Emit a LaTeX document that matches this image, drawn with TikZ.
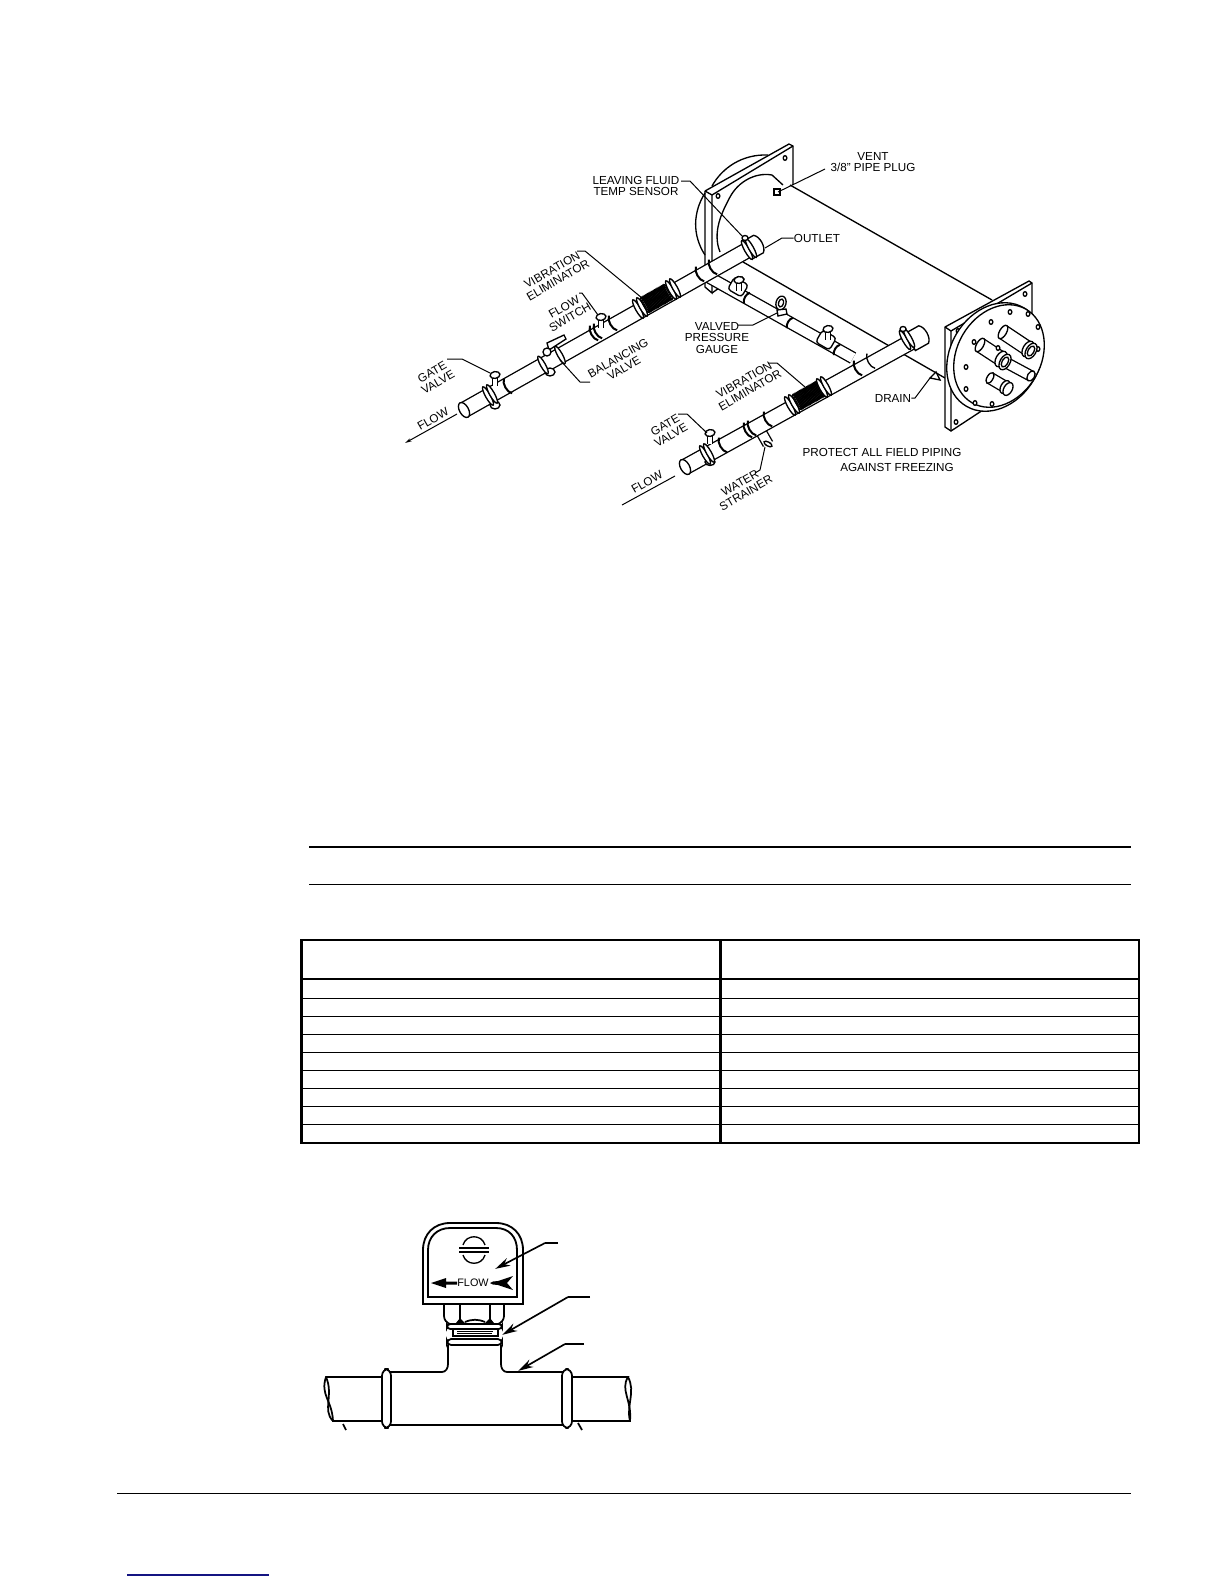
\documentclass[tikz,border=0pt]{standalone}
\usepackage{fontspec}
\setmainfont{Liberation Sans}
\usetikzlibrary{arrows.meta,calc}
\definecolor{navyrule}{RGB}{20,20,130}
\tikzset{
  pl/.style={line width=.8pt,black},
  lead/.style={line width=.6pt,black},
  leadarrow/.style={line width=1pt,black,-{Stealth[length=9pt,width=5pt]}},
  pipest/.style={line width=.8pt,double=white,double distance=#1*0.6pt,line cap=butt},
  lbl/.style={font=\fontsize{7}{7}\selectfont,align=center,inner sep=0pt,text=black},
  heavy/.style={line width=1.6pt,black},
  thin row/.style={line width=.5pt,black},
  fig/.style={line width=1.05pt,black},
}
\newcommand{\ringA}[4]{\draw[pl,fill=white,shift={(#1,#2)},rotate=29.2] (0,0) ellipse [x radius=#3,y radius=#4];}
\newcommand{\ringB}[4]{\draw[pl,fill=white,shift={(#1,#2)},rotate=-30] (0,0) ellipse [x radius=#3,y radius=#4];}
\newcommand{\jointA}[2]{\draw[line width=1.2pt,shift={(#1,#2)},rotate=29.2] (0,-8.4) .. controls (-4,-5) and (-4,5) .. (0,8.4);}
\newcommand{\jointB}[2]{\draw[line width=1.2pt,shift={(#1,#2)},rotate=-30] (0,-6) .. controls (-3,-3.5) and (-3,3.5) .. (0,6);}
\newcommand{\hole}[2]{\draw[pl,fill=white] (#1,#2) ellipse [x radius=1.8,y radius=2.3];}
\newcommand{\plugA}[2]{\draw[pipest=4] (#1,#2) -- ++(0,11); \draw[pl,fill=white,shift={(#1,#2)},rotate=10] (0,0) ellipse [x radius=5,y radius=3.4];}
\newcommand{\bellows}[4]{\foreach \t in {0,0.05,...,1.001} {\draw[line width=.7pt,shift={($(#1,#2)!\t!(#3,#4)$)},rotate=29.2] (0,0) ellipse [x radius=1.6,y radius=8.6];}}
\newcommand{\teeB}[2]{\draw[pl,fill=white,shift={(#1,#2)},rotate=-30,rounded corners=2pt] (-8,-7) rectangle (8,7);}
\begin{document}
\begin{tikzpicture}[x=0.6pt,y=-0.6pt]
\useasboundingbox (0,0) rectangle (1224,1584);
\fill[white] (0,0) rectangle (1224,1584);

%% ---------- vessel ----------
\draw[pl] (705,193) .. controls (693,212) and (692,235) .. (705,255);
\draw[pl] (712,186) .. controls (722,168) and (742,154) .. (768,155);
\draw[pl] (705,191) -- (789,144) -- (793,146) -- (793,185);
\draw[pl] (712,195) -- (793,146);
\draw[pl] (705,191) -- (712,195);
\draw[pl] (705,191) -- (705,287) -- (712,293) -- (712,195);
\draw[pl] (712,293) -- (722,286);
\draw[pl] (720,252) .. controls (712,232) and (722,212) .. (730,197) .. controls (738,182) and (755,172) .. (772,175) -- (783,185);
\draw[pl] (790,185) -- (992,300);
\draw[pl] (743,262) -- (945,378);
\hole{718}{196}\hole{785}{158}
\draw[pl,fill=white] (774,189) rectangle (780,195);

%% ---------- bypass line ----------
\draw[pipest=10] (705,275) -- (853,358);
\draw[pl,fill=white] (705,275) ellipse [x radius=4,y radius=5];
\plugA{739}{280}
\teeB{738}{287}
\plugA{739}{280}
\jointB{747}{298}
\draw[pl,fill=white,rotate around={-15:(781,303)}] (781,303) ellipse [x radius=5,y radius=7];
\draw[pl,fill=white,rotate around={-15:(781,303)}] (781,303) ellipse [x radius=2.5,y radius=4];
\draw[pl,fill=white] (777,310) -- (786,309) -- (787,314) -- (778,316) -- cycle;
\jointB{790}{323}
\teeB{826}{340}
\plugA{828}{329}
\jointB{837}{350}

%% ---------- outlet pipe ----------
\draw[pipest=14] (464,410) -- (760,243);
\draw[pl,fill=white] (495,405) ellipse [x radius=5,y radius=4];
\ringA{464}{410}{4.5}{8.2}
\ringA{488}{396}{2.4}{10.5}\ringA{492}{394}{2.4}{10.5}
\jointA{508}{386}
\plugA{495}{375}
\draw[pl,fill=white] (550,372) ellipse [x radius=5,y radius=4];
\ringA{543}{365}{2.4}{10}
\ringA{560}{355}{2.4}{10}
\draw[pl,fill=white] (547,343) -- (564,335) -- (566,339) -- (549,350) -- cycle;
\draw[pl,fill=white] (547,352) ellipse [x radius=4,y radius=4];
\jointA{594}{333}\jointA{598}{331}\jointA{613}{323}
\plugA{601}{317}
\ringA{638}{309}{2.4}{10.5}\ringA{642}{307}{2.4}{10.5}
\bellows{645}{305}{668}{292}
\ringA{671}{290}{2.4}{10.5}\ringA{675}{288}{2.4}{10.5}
\jointA{700}{274}\jointA{713}{267}
\draw[pl,fill=white,shift={(755,246)},rotate=29.2] (-8,-10) -- (4,-10) .. controls (9,-6) and (9,6) .. (4,10) -- (-8,10) -- cycle;
\ringA{747}{250}{2.4}{10.8}\ringA{751}{248}{2.4}{10.8}
\draw[pl,fill=white] (745,238) ellipse [x radius=3,y radius=2.5];

%% ---------- inlet pipe ----------
\draw[pipest=9] (760,430) -- (768,444);
\draw[pl,fill=white,shift={(768,444)},rotate=60] (0,0) ellipse [x radius=2,y radius=4.5];
\draw[pipest=14] (685,467) -- (920,337);
\draw[pl,fill=white] (710,462) ellipse [x radius=5,y radius=3.5];
\ringA{685}{467}{4.5}{8.2}
\ringA{705}{455}{2.4}{10.5}\ringA{709}{453}{2.4}{10.5}
\jointA{723}{445}
\plugA{710}{433}
\jointA{748}{430}\jointA{752}{428}
\jointA{768}{419}
\ringA{790}{406}{2.4}{10.5}\ringA{794}{404}{2.4}{10.5}
\bellows{797}{402}{820}{389}
\ringA{822}{388}{2.4}{10.5}\ringA{826}{386}{2.4}{10.5}
\jointA{858}{368}
\draw[pl,shift={(871,361)},rotate=29.2] (0,-8.4) .. controls (-4,-5) and (-4,5) .. (0,8.4);
\draw[pl,fill=white,shift={(921,336)},rotate=29.2] (-12,-10) -- (3,-10) .. controls (8,-6) and (8,6) .. (3,10) -- (-12,10) -- cycle;
\ringA{905}{340}{2.4}{10.8}\ringA{909}{338}{2.4}{10.8}
\draw[pl,fill=white] (903,329) ellipse [x radius=3,y radius=2.5];
\draw[pl,fill=white] (930,378) -- (936,372) -- (940,380) -- cycle;

%% ---------- front tube sheet ----------
\draw[pl,fill=white] (945,327) -- (1029,281) -- (1032,283) -- (1032,340) -- (983,410) -- (951,431) -- (945,427) -- cycle;
\draw[pl] (951,331) -- (1032,283);
\draw[pl] (945,327) -- (951,331) -- (951,431);
\hole{958}{331}\hole{1025}{294}\hole{956}{422}
\draw[pl,fill=white,shift={(995,357)},rotate=60] (0,0) ellipse [x radius=57,y radius=45];
\draw[pl,fill=white,shift={(999,356)},rotate=60] (0,0) ellipse [x radius=54,y radius=42];
\hole{1010}{312}\hole{1028}{314}\hole{1038}{327}\hole{1038}{349}\hole{991}{322}
\hole{974}{342}\hole{966}{367}\hole{966}{389}\hole{975}{403}\hole{992}{404}\hole{1021}{339}
% nozzles
\draw[pipest=13] (1003,332) -- (1030,350);
\ringB{1003}{332}{3.5}{7.5}
\ringB{1028}{349}{5}{8.5}\ringB{1031}{351}{5}{8.5}\ringB{1031}{351}{3}{5.5}
\draw[pipest=9] (1005,362) -- (1031,376);
\draw[pipest=13] (980,345) -- (1003,360);
\ringB{980}{345}{3.5}{7.5}
\ringB{1001}{359}{5}{8.5}\ringB{1005}{362}{5}{8.5}\ringB{1005}{362}{3}{5.5}
\ringB{1031}{376}{3.5}{5.5}
\draw[pipest=10] (990,378) -- (1007,388);
\ringB{990}{378}{3}{6}
\ringB{1005}{387}{4.2}{7}\ringB{1008}{389}{4.2}{7}
\hole{998}{348}

%% ---------- labels, upper figure ----------
\node[lbl] (leaving) at (636,186) {LEAVING FLUID\\TEMP SENSOR};
\node[lbl] (vent) at (873,162) {VENT\\3/8" PIPE PLUG};
\node[lbl] (outlet) at (817,238) {OUTLET};
\node[lbl,rotate=30] (vibu) at (555,275) {VIBRATION\\ELIMINATOR};
\node[lbl,rotate=30] (flowsw) at (567,312) {FLOW\\SWITCH};
\node[lbl,rotate=30] (balv) at (621,363) {BALANCING\\VALVE};
\node[lbl,rotate=30] (gateu) at (435,377) {GATE\\VALVE};
\node[lbl,rotate=30] (flowu) at (433,419) {FLOW};
\node[lbl] (gauge) at (717,338) {VALVED\\PRESSURE\\GAUGE};
\node[lbl,rotate=30] (vibl) at (747,385) {VIBRATION\\ELIMINATOR};
\node[lbl,rotate=30] (gatel) at (668,430) {GATE\\VALVE};
\node[lbl,rotate=30] (flowl) at (647,482) {FLOW};
\node[lbl,rotate=30] (strainer) at (743,488) {WATER\\STRAINER};
\node[lbl] (drain) at (893,398) {DRAIN};
\node[lbl] (protect) at (882,452) {PROTECT ALL FIELD PIPING};
\node[lbl] (against) at (897,467) {AGAINST FREEZING};

\coordinate (tLeaving) at (743,237); \coordinate (bLeaving) at (690,181);
\coordinate (sLeaving) at (681,181);
\coordinate (tVent) at (778,192); \coordinate (sVent) at (825,169);
\coordinate (tOutlet) at (765,248); \coordinate (bOutlet) at (782,238);
\coordinate (sVibU) at (577,251); \coordinate (bVibU) at (585,251); \coordinate (tVibU) at (642,298);
\coordinate (sSw) at (579,293); \coordinate (bSw) at (582,293); \coordinate (tSw) at (598,315);
\coordinate (sGateU) at (447,359); \coordinate (bGateU) at (462,359); \coordinate (tGateU) at (490,373);
\coordinate (sBal) at (590,382); \coordinate (bBal) at (580,382); \coordinate (tBal) at (560,360);
\coordinate (sGauge) at (738,325); \coordinate (bGauge) at (753,325); \coordinate (tGauge) at (777,313);
\coordinate (sVibL) at (768,363); \coordinate (bVibL) at (777,363); \coordinate (tVibL) at (805,387);
\coordinate (sGateL) at (678,414); \coordinate (bGateL) at (687,414); \coordinate (tGateL) at (707,433);
\coordinate (tDrain) at (930,378); \coordinate (bDrain) at (915,398);
\coordinate (sStr) at (755,473); \coordinate (bStr) at (760,470); \coordinate (tStr) at (765,447);
\coordinate (fuA) at (457,414); \coordinate (fuB) at (405,443);
\coordinate (flA) at (675,476); \coordinate (flB) at (622,505);

\draw[lead] (sLeaving) -- (bLeaving) -- (tLeaving);
\draw[lead] (sVent) -- (tVent);
\draw[lead] (outlet.west) -- (bOutlet) -- (tOutlet);
\draw[lead] (sVibU) -- (bVibU) -- (tVibU);
\draw[lead] (sSw) -- (bSw) -- (tSw);
\draw[lead] (sGateU) -- (bGateU) -- (tGateU);
\draw[lead] (sBal) -- (bBal) -- (tBal);
\draw[lead] (sGauge) -- (bGauge) -- (tGauge);
\draw[lead] (sVibL) -- (bVibL) -- (tVibL);
\draw[lead] (sGateL) -- (bGateL) -- (tGateL);
\draw[lead] (drain.east) -- (bDrain) -- (tDrain);
\draw[lead] (sStr) -- (bStr) -- (tStr);
\draw[lead,-{Stealth[length=4pt,width=2pt]}] (fuA) -- (fuB);
\draw[lead] (flA) -- (flB);

%% ---------- page rules ----------
\draw[line width=1.2pt] (309,847) -- (1131,847);
\draw[line width=.6pt] (309,884) -- (1131,884);
\draw[line width=.75pt] (117,1493.5) -- (1131,1493.5);
\draw[line width=.8pt,navyrule] (127,1575) -- (269,1575);

%% ---------- table ----------
\draw[heavy] (301.5,940) rectangle (1139,1143);
\draw[heavy] (301.5,979) -- (1139,979);
\draw[heavy] (720.7,940) -- (720.7,1143);
\foreach \ry in {998,1016,1034,1052,1070,1088,1106,1124}
  \draw[thin row] (301.5,\ry) -- (1139,\ry);

%% ---------- flow switch figure ----------
% pipes
\draw[fig] (382,1377) -- (326,1377) .. controls (320,1395) and (332,1400) .. (333,1421) -- (382,1421);
\draw[fig] (326,1377) .. controls (334,1395) and (322,1410) .. (333,1421);
\draw[fig] (567,1377) -- (628,1377) .. controls (620,1390) and (632,1400) .. (630,1421) -- (567,1421);
\draw[fig] (628,1377) .. controls (636,1392) and (626,1405) .. (630,1421);
\draw[fig] (343,1424) -- (346,1430);
\draw[fig] (578,1423) -- (582,1430);
% tee
\draw[fig] (387,1372) -- (442,1372) .. controls (446,1372) and (448,1368) .. (448,1364) -- (448,1345);
\draw[fig] (501,1345) -- (501,1364) .. controls (501,1368) and (503,1372) .. (507,1372) -- (563,1372);
\draw[fig] (387,1425) -- (563,1425);
\draw[fig,fill=white,rounded corners=4pt] (382,1369) rectangle (391,1428);
\draw[fig,fill=white,rounded corners=4pt] (562,1369) rectangle (572,1428);
% union and nut
\draw[fig,fill=white,rounded corners=2.5pt] (447,1339) rectangle (502,1345);
\draw[fig,fill=white] (453,1329) rectangle (498,1336);
\draw[line width=.6pt] (457,1331.5) -- (493,1331.5);
\draw[line width=.6pt] (457,1333.5) -- (492,1333.5);
\draw[fig,fill=white,rounded corners=2pt] (447,1324) rectangle (502,1329);
\draw[fig] (444,1304) -- (444,1316) .. controls (444,1320) and (447,1323) .. (450,1324);
\draw[fig] (504,1304) -- (504,1316) .. controls (504,1320) and (501,1323) .. (498,1324);
\draw[fig] (460,1304) -- (460,1319);
\draw[fig] (490,1304) -- (490,1319);
\fill (460,1318) -- (456,1323) -- (465,1323) -- cycle;
\fill (490,1318) -- (485,1323) -- (494,1323) -- cycle;
\draw[fig] (465,1322) .. controls (472,1319) and (478,1319) .. (485,1322);
% box
\draw[line width=1.1pt,fill=white] (423,1304) -- (423,1250) .. controls (423,1234) and (434,1223) .. (450,1223) -- (496,1223) .. controls (512,1223) and (523,1234) .. (523,1250) -- (523,1304) -- cycle;
\draw[line width=1.1pt] (428,1297) -- (428,1250) .. controls (428,1237) and (437,1228) .. (450,1228) -- (496,1228) .. controls (509,1228) and (517,1237) .. (517,1250) -- (517,1297) -- cycle;
% symbol
\draw[fig] (459,1248) -- (489,1248);
\draw[fig] (459,1252) -- (489,1252);
\draw[line width=.8pt] (463,1245) .. controls (466,1234) and (482,1234) .. (485,1245);
\draw[line width=.8pt] (463,1255) .. controls (466,1266) and (482,1266) .. (485,1255);
% flow legend
\node[inner sep=0pt,font=\fontsize{6.5}{6.5}\selectfont] (flowtxt) at (473,1283) {FLOW};
\fill (431,1283) -- (446,1278) -- (446,1281.5) -- (457,1281.5) -- (457,1284.5) -- (446,1284.5) -- (446,1288) -- cycle;
\fill (490,1283) -- (493,1281.5) -- (498,1281) -- (513,1276) -- (507,1283) -- (513,1290) -- (498,1285) -- (493,1284.5) -- cycle;
% leaders
\node[inner sep=0pt,minimum size=0pt] (ctrl) at (495,1269) {};
\node[inner sep=0pt,minimum size=0pt] (union) at (502,1335) {};
\node[inner sep=0pt,minimum size=0pt] (teeb) at (518,1371) {};
\coordinate (lA) at (558,1243); \coordinate (lB) at (545,1243);
\coordinate (lC) at (590,1297); \coordinate (lD) at (568,1297);
\coordinate (lE) at (584,1344); \coordinate (lF) at (565,1344);
\draw[line width=1pt] (lA) -- (lB);
\draw[leadarrow] (lB) -- (ctrl);
\draw[line width=1pt] (lC) -- (lD);
\draw[leadarrow] (lD) -- (union);
\draw[line width=1pt] (lE) -- (lF);
\draw[leadarrow] (lF) -- (teeb);
\end{tikzpicture}
\end{document}
